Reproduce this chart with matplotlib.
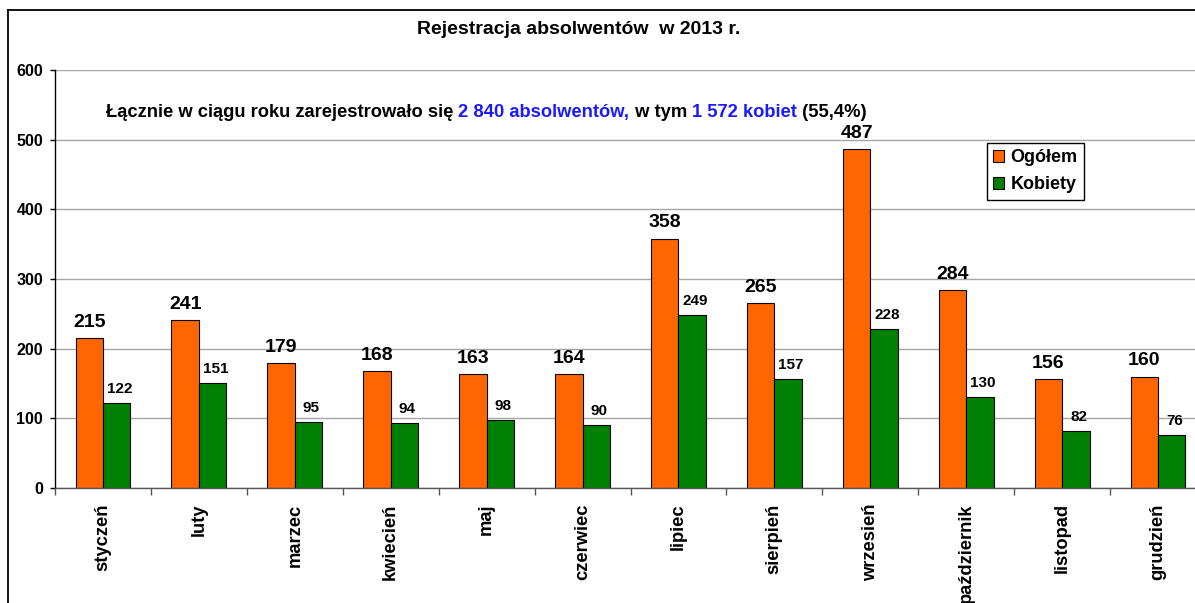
import matplotlib
matplotlib.use("Agg")
import matplotlib.pyplot as plt
from matplotlib.lines import Line2D
import numpy as np

plt.rcParams['font.family'] = ['Liberation Sans', 'DejaVu Sans']
plt.rcParams['font.weight'] = 'bold'

months = ["styczeń", "luty", "marzec", "kwiecień", "maj", "czerwiec",
          "lipiec", "sierpień", "wrzesień", "październik", "listopad", "grudzień"]
ogolem = [215, 241, 179, 168, 163, 164, 358, 265, 487, 284, 156, 160]
kobiety = [122, 151, 95, 94, 98, 90, 249, 157, 228, 130, 82, 76]
y_ticks = [0, 100, 200, 300, 400, 500, 600]

ORANGE = "#FF6600"
GREEN = "#008000"
BLUE = "#1A1AFF"

W, H = 1195, 603
fig = plt.figure(figsize=(W / 100, H / 100), dpi=100)

# outer frame of the chart object
fig.add_artist(Line2D([8 / W, 8 / W], [0, 1 - 10 / H], color="black", lw=1.3,
                      transform=fig.transFigure))
fig.add_artist(Line2D([8 / W, 1], [1 - 10 / H, 1 - 10 / H], color="black", lw=1.3,
                      transform=fig.transFigure))

ax = fig.add_axes([55 / W, 115 / H, (1206 - 55) / W, 418 / H])

x = np.arange(len(months))
bw = 0.286
ax.bar(x - bw / 2, ogolem, bw, color=ORANGE, edgecolor="black", linewidth=0.8,
       label="Ogółem", zorder=3)
ax.bar(x + bw / 2, kobiety, bw, color=GREEN, edgecolor="black", linewidth=0.8,
       label="Kobiety", zorder=3)

for xi, v in zip(x, ogolem):
    ax.annotate(str(v), (xi - bw / 2, v), xytext=(0, 8.0), textcoords="offset points",
                ha="center", va="baseline", fontsize=14, fontweight="bold")
for xi, v in zip(x, kobiety):
    ax.annotate(str(v), (xi + bw / 2 + 0.03, v), xytext=(0, 7.2), textcoords="offset points",
                ha="center", va="baseline", fontsize=11, fontweight="bold")

ax.set_xlim(-0.5, len(months) - 0.5)
ax.set_ylim(0, 600)
ax.set_yticks(y_ticks)
ax.set_yticklabels([str(t) for t in y_ticks], fontsize=11.5, fontweight="bold")
ax.tick_params(axis="y", length=3.6, width=1, direction="out", pad=5, color="black")

ax.set_xticks(x)
ax.set_xticklabels(months, rotation=90, fontsize=13.2, fontweight="bold", va="top")
ax.tick_params(axis="x", which="major", length=0, pad=11)
ax.set_xticks(np.arange(-0.5, len(months)), minor=True)
ax.tick_params(axis="x", which="minor", length=5, width=1, direction="out", color="#555555")

ax.yaxis.grid(True, color="#a6a6a6", lw=1, zorder=0)
ax.set_axisbelow(True)
for s in ("top", "right"):
    ax.spines[s].set_visible(False)
ax.spines["left"].set_color("black")
ax.spines["left"].set_linewidth(1)
ax.spines["bottom"].set_color("#555555")
ax.spines["bottom"].set_linewidth(1)
ax.spines["bottom"].set_zorder(4)

leg = ax.legend(loc="upper left", bbox_to_anchor=(987 / W, 1 - 143 / H),
                bbox_transform=fig.transFigure, fontsize=13, frameon=True,
                fancybox=False, edgecolor="black", framealpha=1,
                handlelength=0.6, handleheight=0.6, handletextpad=0.35,
                borderpad=0.35, labelspacing=0.55, borderaxespad=0)
leg.get_frame().set_linewidth(1)
for t in leg.get_texts():
    t.set_fontweight("bold")

fig.text(579 / W, 1 - 34 / H, "Rejestracja absolwentów  w 2013 r.", ha="center",
         va="baseline", fontsize=14, fontweight="bold")

# summary line with coloured figures
parts = [("Łącznie w ciągu roku zarejestrowało się ", "black"),
         ("2 840 absolwentów,", BLUE),
         (" w tym ", "black"),
         ("1 572 kobiet", BLUE),
         (" (55,4%)", "black")]
fig.canvas.draw()
renderer = fig.canvas.get_renderer()
xpos = 106
for txt, col in parts:
    t = fig.text(xpos / W, 1 - 117 / H, txt, ha="left", va="baseline",
                 fontsize=13.2, fontweight="bold", color=col)
    xpos += t.get_window_extent(renderer=renderer).width

fig.savefig("out.png", dpi=100)
